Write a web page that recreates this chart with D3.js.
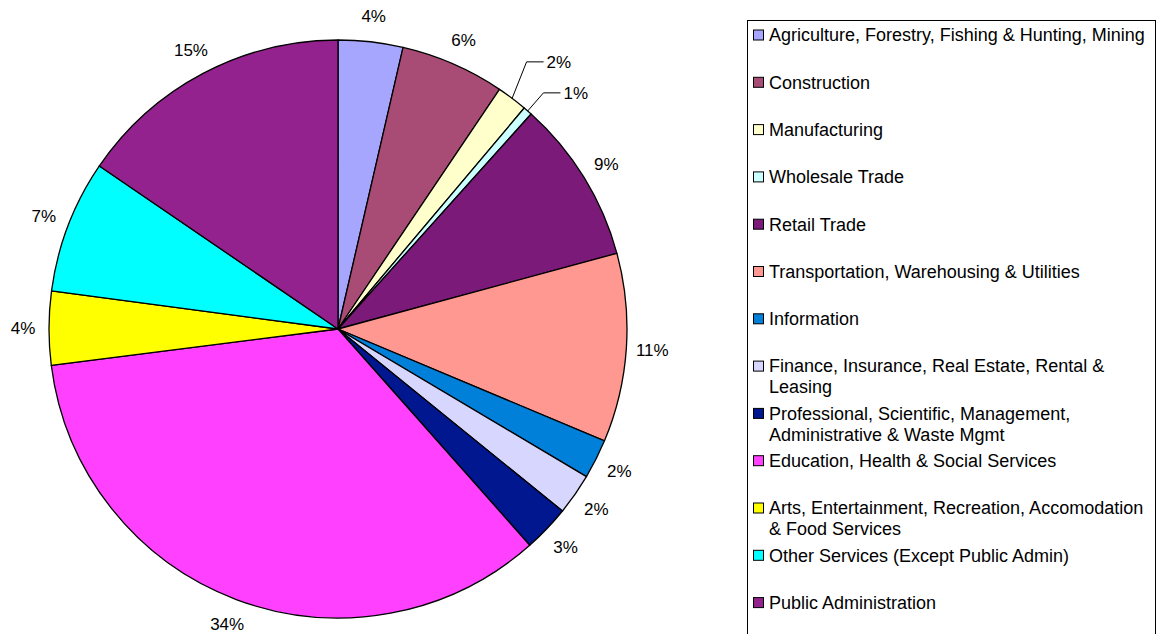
<!DOCTYPE html>
<html>
<head>
<meta charset="utf-8">
<script src="https://cdn.jsdelivr.net/npm/d3@7"></script>
<style>
  body { margin: 0; background: #fff; }
  text { font-family: "Liberation Sans", Arial, sans-serif; fill: #000; }
</style>
</head>
<body>
<div class="chart"></div>
<script>
// industries, in slice order (clockwise from 12 o'clock)
var industries = [
    "Agriculture, Forestry, Fishing & Hunting, Mining",
    "Construction",
    "Manufacturing",
    "Wholesale Trade",
    "Retail Trade",
    "Transportation, Warehousing & Utilities",
    "Information",
    "Finance, Insurance, Real Estate, Rental & Leasing",
    "Professional, Scientific, Management, Administrative & Waste Mgmt",
    "Education, Health & Social Services",
    "Arts, Entertainment, Recreation, Accomodation & Food Services",
    "Other Services (Except Public Admin)",
    "Public Administration"
];

// share of employment (%)
var shares = [3.6, 5.8, 1.7, 0.5, 9.1, 10.5, 2.2, 2.3, 2.6, 34.4, 4.1, 7.4, 15.4];

var sliceColors = [
    "#a6a6ff", "#a84c76", "#ffffcc", "#ccffff", "#7b1a79", "#ff9891", "#0080d8",
    "#d6d6ff", "#00178f", "#ff40ff", "#ffff00", "#00ffff", "#94228e"
];

// svg wrapper dimensions
var svgWidth = 1159;
var svgHeight = 634;

var cx = 338, cy = 329, radius = 289;

var svg = d3.select(".chart")
    .append("svg")
    .attr("width", svgWidth)
    .attr("height", svgHeight);

var pieGroup = svg.append("g")
    .attr("transform", `translate(${cx}, ${cy})`);

var pie = d3.pie().sort(null).value(d => d);
var arcs = pie(shares);

var arc = d3.arc().innerRadius(0).outerRadius(radius);

// slices
pieGroup.selectAll("path.slice")
    .data(arcs)
    .enter()
    .append("path")
    .classed("slice", true)
    .attr("d", arc)
    .attr("fill", (d, i) => sliceColors[i])
    .attr("stroke", "#000")
    .attr("stroke-width", 1.3)
    .attr("stroke-linejoin", "round");

function midAngle(d) { return (d.startAngle + d.endAngle) / 2; }
function pct(v) { return Math.round(v) + "%"; }

// labels of normal slices
var labelRadius = 315;
var bigArcs = arcs.filter(d => d.value >= 2);
pieGroup.selectAll("text.pLabel")
    .data(bigArcs)
    .enter()
    .append("text")
    .classed("pLabel", true)
    .attr("x", d => labelRadius * Math.sin(midAngle(d)))
    .attr("y", d => -labelRadius * Math.cos(midAngle(d)))
    .attr("dy", "0.35em")
    .attr("text-anchor", "middle")
    .style("font-size", "17px")
    .text(d => pct(d.value));

// small slices get a leader line, pushed apart so they don't overlap
var smallArcs = arcs.filter(d => d.value < 2).map(d => {
    var a = midAngle(d);
    return {
        d: d,
        x0: radius * Math.sin(a), y0: -radius * Math.cos(a),
        x1: 313 * Math.sin(a), y1: -313 * Math.cos(a)
    };
});
var lastY = null;
for (var k = smallArcs.length - 1; k >= 0; k--) {
    if (lastY !== null && lastY - smallArcs[k].y1 < 31) {
        smallArcs[k].y1 = lastY - 31;
    }
    lastY = smallArcs[k].y1;
}

pieGroup.selectAll("polyline.leader")
    .data(smallArcs)
    .enter()
    .append("polyline")
    .classed("leader", true)
    .attr("points", s => [[s.x0, s.y0], [s.x1, s.y1], [s.x1 + 17, s.y1]].join(" "))
    .attr("fill", "none")
    .attr("stroke", "#000")
    .attr("stroke-width", 1);

pieGroup.selectAll("text.sLabel")
    .data(smallArcs)
    .enter()
    .append("text")
    .classed("sLabel", true)
    .attr("x", s => s.x1 + 20)
    .attr("y", s => s.y1)
    .attr("dy", "0.35em")
    .style("font-size", "17px")
    .text(s => pct(s.d.value));

// legend
var legend = svg.append("g");

legend.append("rect")
    .attr("x", 747.5)
    .attr("y", 20.5)
    .attr("width", 408)
    .attr("height", 640)
    .attr("fill", "#fff")
    .attr("stroke", "#000")
    .attr("stroke-width", 1);

var itemY = d3.scaleLinear().domain([0, 1]).range([35, 82.3]);

var items = legend.selectAll("g.item")
    .data(industries)
    .enter()
    .append("g")
    .classed("item", true)
    .attr("transform", (d, i) => `translate(753, ${itemY(i)})`);

items.append("rect")
    .attr("x", 0.5)
    .attr("y", -5)
    .attr("width", 10)
    .attr("height", 10)
    .attr("fill", (d, i) => sliceColors[i])
    .attr("stroke", "#000")
    .attr("stroke-width", 1);

// wrap legend text to the box width
items.append("text")
    .attr("x", 16)
    .attr("y", 0)
    .style("font-size", "18px")
    .each(function(name) {
        var t = d3.select(this);
        var words = name.split(" ");
        var line = [];
        var tspan = t.append("tspan").attr("x", 16).attr("dy", "0.35em");
        words.forEach(function(w) {
            line.push(w);
            tspan.text(line.join(" "));
            if (tspan.node().getComputedTextLength() > 384 && line.length > 1) {
                line.pop();
                tspan.text(line.join(" "));
                line = [w];
                tspan = t.append("tspan").attr("x", 16).attr("dy", "21px").text(w);
            }
        });
    });
</script>
</body>
</html>
